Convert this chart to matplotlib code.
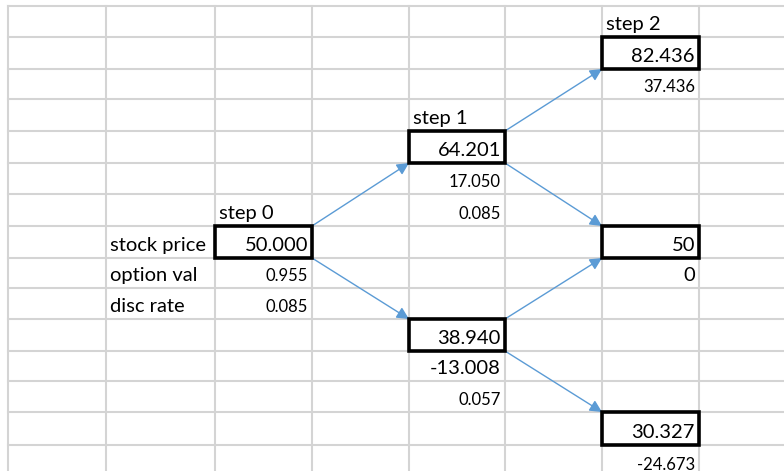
import matplotlib
matplotlib.use('Agg')
import matplotlib.pyplot as plt

plt.rcParams['font.family'] = ['Lato', 'DejaVu Sans']

# 셀 격자 (픽셀 단위로 측정한 경계)
col_edges = [8, 106, 215, 312, 409, 505, 602, 699]
row_edges = [6, 37, 69, 99, 131, 163, 194, 226, 258, 288, 319, 351, 381, 412, 445, 477]

# 데이터: 이항 트리 노드
step_labels = ['step 0', 'step 1', 'step 2']
row_labels = ['stock price', 'option val', 'disc rate']

# (col, row, 주가, 옵션가치, 할인율)
node_col = [2, 4, 4, 6, 6, 6]
node_row = [7, 4, 10, 1, 7, 13]
stock_price = ['50.000', '64.201', '38.940', '82.436', '50', '30.327']
option_val = ['0.955', '17.050', '-13.008', '37.436', '0', '-24.673']
option_big = [False, False, True, False, True, False]
disc_rate = ['0.085', '0.085', '0.057', None, None, None]

# 트리 연결 (부모 -> 자식)
edges = [(0, 1), (0, 2), (1, 3), (1, 4), (2, 4), (2, 5)]

BIG = 14.5
SMALL = 12
GRID = '#D4D4D4'
ARROW = '#5B9BD5'

fig = plt.figure(figsize=(7.84, 4.71), dpi=100)
ax = fig.add_axes([0, 0, 1, 1])
ax.set_xlim(0, 784)
ax.set_ylim(471, 0)
ax.axis('off')

# 격자선
for x in col_edges:
    ax.plot([x, x], [row_edges[0], 471], color=GRID, lw=1.5, zorder=1)
for y in row_edges[:-1]:
    ax.plot([col_edges[0], 784], [y, y], color=GRID, lw=1.5, zorder=1)


def cell(c, r):
    return col_edges[c], col_edges[c + 1], row_edges[r], row_edges[r + 1]


def put(c, r, s, size, align='right'):
    x0, x1, y0, y1 = cell(c, r)
    x = x1 - 4 if align == 'right' else x0 + 4
    ax.text(x, y1 - 7, s, ha=align, va='baseline', fontsize=size, color='black', zorder=4)


# 단계 라벨
for i, lab in enumerate(step_labels):
    c = node_col[[0, 1, 3][i]]
    r = node_row[[0, 1, 3][i]] - 1
    put(c, r, lab, BIG, align='left')

# 행 라벨
for i, lab in enumerate(row_labels):
    put(1, node_row[0] + i, lab, BIG, align='left')

# 노드
for i in range(len(stock_price)):
    c, r = node_col[i], node_row[i]
    x0, x1, y0, y1 = cell(c, r)
    ax.add_patch(plt.Rectangle((x0, y0), x1 - x0, y1 - y0, fill=False,
                               ec='black', lw=2.6, zorder=5))
    put(c, r, stock_price[i], BIG)
    put(c, r + 1, option_val[i], BIG if option_big[i] else SMALL)
    if disc_rate[i] is not None:
        put(c, r + 2, disc_rate[i], SMALL)

# 화살표
for a, b in edges:
    ax0, ax1, ay0, ay1 = cell(node_col[a], node_row[a])
    bx0, bx1, by0, by1 = cell(node_col[b], node_row[b])
    if node_row[b] < node_row[a]:
        start, end = (ax1, ay0), (bx0, by1)
    else:
        start, end = (ax1, ay1), (bx0, by0)
    ax.annotate('', xy=end, xytext=start,
                arrowprops=dict(arrowstyle='-|>', color=ARROW, lw=1.0,
                                mutation_scale=18, shrinkA=0, shrinkB=0),
                zorder=3)

fig.savefig('out.png', dpi=100)
